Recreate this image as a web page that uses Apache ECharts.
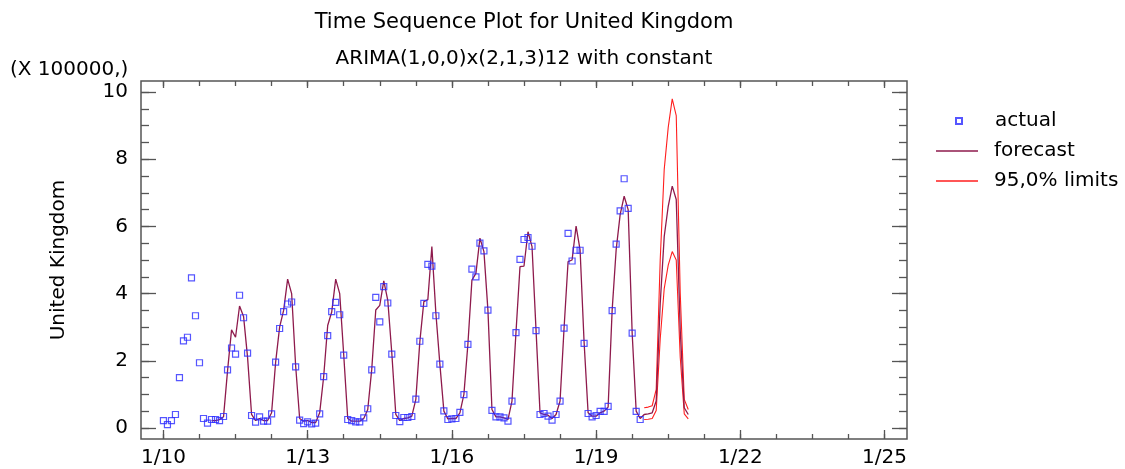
<!DOCTYPE html>
<html>
<head>
<meta charset="utf-8">
<script src="https://cdn.jsdelivr.net/npm/echarts@6/dist/echarts.min.js"></script>
<style>html,body{margin:0;padding:0;background:#fff}#c{width:1125px;height:469px}</style>
</head>
<body>
<div id="c"></div>
<script>
// Month index 0 = Jan 2010 (values in units of 100000)
var actualStart = 0;
var actual = [
  0.22, 0.10, 0.22, 0.40, 1.50, 2.59, 2.70, 4.47, 3.34, 1.94, 0.28, 0.14,
  0.25, 0.25, 0.22, 0.34, 1.73, 2.38, 2.20, 3.95, 3.28, 2.23, 0.37, 0.17,
  0.33, 0.20, 0.20, 0.42, 1.96, 2.96, 3.46, 3.69, 3.75, 1.82, 0.23, 0.13,
  0.18, 0.12, 0.14, 0.42, 1.53, 2.75, 3.46, 3.74, 3.37, 2.17, 0.25, 0.22,
  0.18, 0.18, 0.30, 0.57, 1.73, 3.89, 3.16, 4.21, 3.72, 2.20, 0.37, 0.19,
  0.31, 0.31, 0.34, 0.86, 2.58, 3.71, 4.87, 4.82, 3.34, 1.90, 0.51, 0.25,
  0.27, 0.28, 0.46, 0.99, 2.49, 4.73, 4.50, 5.50, 5.27, 3.51, 0.52, 0.33,
  0.33, 0.30, 0.20, 0.80, 2.84, 5.02, 5.61, 5.67, 5.41, 2.90, 0.40, 0.43,
  0.35, 0.23, 0.40, 0.80, 2.97, 5.79, 4.97, 5.29, 5.29, 2.52, 0.43, 0.33,
  0.37, 0.49, 0.49, 0.64, 3.49, 5.47, 6.46, 7.42, 6.54, 2.82, 0.49, 0.25
];
var forecastStart = 12;
var forecast = [
  0.22, 0.22, 0.25, 0.33, 1.70, 2.92, 2.70, 3.63, 3.32, 2.10, 0.40, 0.22,
  0.28, 0.22, 0.22, 0.45, 1.95, 3.00, 3.50, 4.43, 4.00, 1.85, 0.28, 0.20,
  0.22, 0.16, 0.16, 0.45, 1.53, 3.05, 3.45, 4.43, 4.00, 2.18, 0.28, 0.20,
  0.20, 0.20, 0.28, 0.55, 1.75, 3.51, 3.65, 4.38, 3.80, 2.23, 0.40, 0.22,
  0.28, 0.30, 0.35, 0.85, 2.57, 3.76, 3.82, 5.40, 3.42, 1.90, 0.50, 0.27,
  0.28, 0.28, 0.45, 1.00, 2.50, 4.40, 4.60, 5.65, 5.25, 3.50, 0.55, 0.33,
  0.33, 0.30, 0.25, 0.80, 2.85, 4.80, 4.82, 5.84, 5.40, 2.92, 0.45, 0.40,
  0.38, 0.28, 0.40, 0.80, 2.97, 4.95, 5.00, 6.01, 5.30, 2.55, 0.45, 0.35,
  0.35, 0.45, 0.50, 0.62, 3.50, 5.30, 6.35, 6.90, 6.50, 2.82, 0.50, 0.28,
  0.40, 0.42, 0.45, 0.80, 3.70, 5.70, 6.60, 7.20, 6.80, 2.90, 0.60, 0.40
];
var limitsStart = 120;
var upperLimit = [0.60, 0.62, 0.66, 1.15, 5.00, 7.70, 8.95, 9.80, 9.30, 4.00, 0.85, 0.55];
var lowerLimit = [0.25, 0.26, 0.28, 0.52, 2.65, 4.15, 4.85, 5.25, 5.00, 2.10, 0.42, 0.27];

var xTickMonths = [0, 36, 72, 108, 144, 180];
var xTickLabels = ['1/10', '1/13', '1/16', '1/19', '1/22', '1/25'];
var yTickValues = [0, 2, 4, 6, 8, 10];

function pairs(start, arr) { return arr.map(function (v, k) { return [start + k, v]; }); }
var xMinor = []; for (var m = 0; m <= 180; m += 9) xMinor.push(m);
var yMinor = []; for (var q = 0; q <= 20; q++) yMinor.push(q * 0.5);

var FONT = 'DejaVu Sans';
var frameColor = '#555';
var xMin = -5.6, xMax = 185.6, yMin = -0.33, yMax = 10.33;

function xAx(pos, vals, len, labels) {
  return {
    type: 'value', position: pos, offset: 0, min: xMin, max: xMax, gridIndex: 0,
    axisLine: { show: false, onZero: false }, splitLine: { show: false },
    axisTick: { show: true, inside: true, length: len, customValues: vals, lineStyle: { color: frameColor, width: 1.3 } },
    axisLabel: labels ? {
      show: true, customValues: xTickMonths, margin: 9, color: '#000', fontFamily: FONT, fontSize: 20,
      formatter: function (v) { var i = xTickMonths.indexOf(Math.round(v)); return i >= 0 ? xTickLabels[i] : ''; }
    } : { show: false }
  };
}
function yAx(pos, vals, len, labels, name) {
  var o = {
    type: 'value', position: pos, offset: 0, min: yMin, max: yMax, gridIndex: 0,
    axisLine: { show: false, onZero: false }, splitLine: { show: false },
    axisTick: { show: true, inside: true, length: len, customValues: vals, lineStyle: { color: frameColor, width: 1.3 } },
    axisLabel: labels ? { show: true, customValues: yTickValues, margin: 13, color: '#000', fontFamily: FONT, fontSize: 20 } : { show: false }
  };
  if (name) {
    o.name = name; o.nameLocation = 'middle'; o.nameGap = 72; o.nameRotate = 90;
    o.nameTextStyle = { color: '#000', fontFamily: FONT, fontSize: 20 };
  }
  return o;
}

var legendText = { fontFamily: FONT, fontSize: 20, color: '#000', lineHeight: 20 };

var chart = echarts.init(document.getElementById('c'), null, { renderer: 'canvas' });
chart.setOption({
  backgroundColor: '#fff',
  animation: false,
  title: [
    { text: 'Time Sequence Plot for United Kingdom', left: 524, textAlign: 'center', top: 11, padding: 0,
      textStyle: { fontFamily: FONT, fontSize: 21, fontWeight: 'normal', color: '#000', lineHeight: 24 } },
    { text: 'ARIMA(1,0,0)x(2,1,3)12 with constant', left: 524, textAlign: 'center', top: 47, padding: 0,
      textStyle: { fontFamily: FONT, fontSize: 20, fontWeight: 'normal', color: '#000', lineHeight: 24 } },
    { text: '(X 100000,)', left: 10, top: 60, padding: 0,
      textStyle: { fontFamily: FONT, fontSize: 20, fontWeight: 'normal', color: '#000', lineHeight: 20 } }
  ],
  legend: [
    { data: [{ name: 'actual', icon: 'rect' }], left: 955, top: 111, padding: 0,
      itemWidth: 6, itemHeight: 6, selectedMode: false,
      textStyle: Object.assign({ padding: [0, 0, 0, 28] }, legendText) },
    { data: [{ name: 'forecast', icon: 'rect' }], left: 936, top: 141, padding: 0, itemWidth: 42, itemHeight: 1.4, selectedMode: false,
      textStyle: Object.assign({ padding: [0, 0, 0, 11] }, legendText) },
    { data: [{ name: '95,0% limits', icon: 'rect' }], left: 936, top: 171, padding: 0, itemWidth: 42, itemHeight: 1.4, selectedMode: false,
      textStyle: Object.assign({ padding: [0, 0, 0, 11] }, legendText) }
  ],
  grid: { left: 141, right: 218, top: 81, bottom: 30, show: true, borderColor: frameColor, borderWidth: 1.5, backgroundColor: 'transparent' },
  xAxis: [
    xAx('bottom', xTickMonths, 9, true),
    xAx('bottom', xMinor, 5, false),
    xAx('top', xTickMonths, 7, false),
    xAx('top', xMinor, 5, false)
  ],
  yAxis: [
    yAx('left', yTickValues, 15, true, 'United Kingdom'),
    yAx('left', yMinor, 8, false),
    yAx('right', yTickValues, 15, false),
    yAx('right', yMinor, 8, false)
  ],
  series: [
    { name: 'forecast', type: 'line', xAxisIndex: 0, yAxisIndex: 0, data: pairs(forecastStart, forecast),
      symbol: 'none', lineStyle: { color: '#8e1a4c', width: 1.3 }, itemStyle: { color: '#8e1a4c' }, z: 3 },
    { name: '95,0% limits', type: 'line', xAxisIndex: 0, yAxisIndex: 0, data: pairs(limitsStart, upperLimit),
      symbol: 'none', lineStyle: { color: '#ff1e1e', width: 1.1 }, itemStyle: { color: '#ff1e1e' }, z: 2 },
    { name: '95,0% limits', type: 'line', xAxisIndex: 0, yAxisIndex: 0, data: pairs(limitsStart, lowerLimit),
      symbol: 'none', lineStyle: { color: '#ff1e1e', width: 1.1 }, itemStyle: { color: '#ff1e1e' }, z: 2 },
    { name: 'actual', type: 'scatter', xAxisIndex: 0, yAxisIndex: 0, data: pairs(actualStart, actual),
      symbol: 'rect', symbolSize: 6,
      itemStyle: { color: 'rgba(255,255,255,0)', borderColor: '#2a2aff', borderWidth: 1.2 }, z: 4 }
  ]
});
</script>
</body>
</html>
